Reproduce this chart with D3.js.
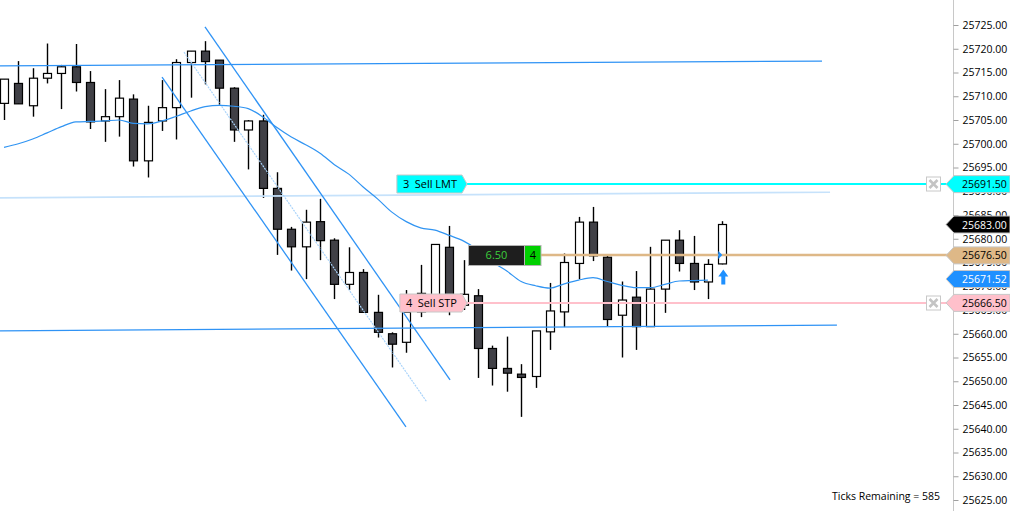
<!DOCTYPE html>
<html><head><meta charset="utf-8">
<script src="https://cdn.jsdelivr.net/npm/d3@7"></script>
<style>html,body{margin:0;padding:0;background:#fff;overflow:hidden}svg{display:block}</style>
</head><body><svg id="c" width="1010" height="511"></svg>
<script>
// ---------- DATA ----------
const opens  = [25708.5,25712.7,25708.0,25713.8,25714.8,25716.2,25712.9,25704.8,25705.7,25709.4,
                25696.4,25704.8,25707.6,25717.1,25719.5,25717.6,25711.7,25702.9,25704.8,25690.6,
                25682.0,25678.3,25683.6,25679.7,25670.4,25672.9,25664.5,25660.0,25658.2,25664.6,
                25667.5,25678.2,25666.0,25668.0,25656.9,25652.7,25651.5,25651.0,25660.4,25664.6,
                25674.8,25683.5,25676.1,25663.9,25667.7,25661.5,25669.4,25679.7,25674.8,25670.9,25674.7];
const highs  = [25713.6,25717.4,25715.9,25721.1,25716.6,25721.0,25715.3,25711.5,25713.4,25710.4,
                25708.0,25713.4,25717.8,25719.5,25721.6,25717.6,25711.9,25705.0,25706.1,25694.0,
                25682.5,25686.1,25688.4,25680.1,25678.2,25673.6,25668.2,25660.3,25669.2,25674.5,
                25678.8,25682.7,25675.5,25669.4,25657.5,25659.4,25653.6,25660.6,25670.7,25676.9,
                25684.6,25686.7,25676.4,25671.0,25673.2,25678.3,25679.7,25681.8,25680.6,25675.7,25683.7];
const lows   = [25705.0,25708.4,25705.7,25712.7,25707.3,25711.0,25703.1,25700.4,25701.5,25695.2,
                25692.9,25702.7,25700.9,25709.7,25712.5,25708.2,25700.4,25694.6,25688.6,25676.6,
                25673.3,25671.5,25675.5,25667.3,25669.2,25664.5,25659.2,25652.9,25656.0,25663.5,
                25666.0,25663.9,25665.0,25650.7,25649.1,25647.8,25642.5,25648.6,25656.6,25661.4,
                25671.5,25675.3,25661.6,25655.0,25656.6,25661.5,25664.4,25673.1,25669.2,25667.3,25674.6];
const closes = [25713.6,25708.4,25713.8,25714.8,25716.2,25712.9,25704.6,25705.7,25709.6,25696.4,
                25704.5,25707.6,25717.1,25719.5,25717.3,25711.7,25702.9,25704.8,25690.6,25682.0,
                25678.3,25683.5,25679.6,25670.4,25672.9,25664.5,25660.3,25657.8,25664.5,25668.5,
                25678.8,25666.0,25668.3,25656.9,25652.7,25651.7,25650.8,25660.6,25664.8,25675.0,
                25683.5,25676.4,25663.0,25667.1,25661.5,25669.4,25679.7,25674.8,25670.9,25674.6,25683.0];
// moving average, one value per bar (last bar has none)
const maValues = [25699.25,25700.0,25701.0,25702.3,25703.6,25704.6,25704.7,25704.8,25705.0,25704.3,
                  25704.2,25704.8,25705.8,25706.9,25707.8,25708.1,25707.9,25707.4,25705.7,25703.4,
                  25701.4,25699.8,25698.0,25695.6,25693.6,25690.9,25688.4,25685.6,25683.6,25682.3,
                  25681.8,25680.7,25679.5,25677.6,25675.1,25673.2,25671.0,25670.1,25669.6,25670.5,
                  25671.3,25671.8,25671.0,25670.2,25669.7,25669.7,25670.4,25671.1,25671.2,25671.3];
// drawn lines: [barIndex1, price1, barIndex2, price2]
const upperLevel   = [-0.28, 25716.4, 56.94, 25717.4];
const lowerLevel   = [-0.28, 25660.6, 57.98, 25661.8];
const faintLevel   = [-0.28, 25688.6, 57.5, 25689.8];
const channelUpper = [13.99, 25724.6, 31.05, 25650.3];
const channelLower = [11.0, 25714.05, 27.98, 25640.4];
const channelMid   = [12.53, 25719.3, 29.44, 25645.6];
// price axis ticks
const yTicks = d3.range(25625, 25726, 5);
// orders / position / markers
const orderQty    = [3, 4];
const orderTypes  = ["Sell LMT", "Sell STP"];
const orderPrices = [25691.5, 25666.5];
const positionPrice = 25676.5;
const positionPnl = "6.50";
const positionQty = 4;
const lastPrice = 25683.00;
const maLastValue = 25671.52;
const ticksRemaining = 585;

// ---------- SCALES ----------
const W = 1010, H = 511, axisX = 953;
const x = d3.scaleLinear().domain([0, 50]).range([4, 722.3]);
const y = d3.scaleLinear().domain([25725, 25625]).range([25, 500]);
const svg = d3.select("#c");
const FONT = "'Open Sans','Noto Sans',sans-serif";
svg.append("rect").attr("width", W).attr("height", H).attr("fill", "#fff");

const bars = d3.range(opens.length).map(i => ({i, o: opens[i], h: highs[i], l: lows[i], c: closes[i]}));

// ---------- CANDLES ----------
const g = svg.append("g");
const bw = 8;
g.selectAll(".wick").data(bars).enter().append("line")
  .attr("x1", d => Math.round(x(d.i)) + 0.5).attr("x2", d => Math.round(x(d.i)) + 0.5)
  .attr("y1", d => y(d.h)).attr("y2", d => y(d.l))
  .attr("stroke", "#000").attr("stroke-width", 1.4);
g.selectAll(".body").data(bars).enter().append("rect")
  .attr("x", d => Math.round(x(d.i)) - bw / 2 + 0.5)
  .attr("y", d => y(Math.max(d.o, d.c)))
  .attr("width", bw)
  .attr("height", d => Math.max(1, Math.abs(y(d.o) - y(d.c))))
  .attr("fill", d => d.c >= d.o ? "#ffffff" : "#404046")
  .attr("stroke", "#000").attr("stroke-width", 1.2);

// ---------- LINES ----------
function seg(arr, color, width, dash) {
  svg.append("line")
    .attr("x1", x(arr[0])).attr("y1", y(arr[1]))
    .attr("x2", x(arr[2])).attr("y2", y(arr[3]))
    .attr("stroke", color).attr("stroke-width", width)
    .attr("stroke-dasharray", dash || null);
}
seg(faintLevel, "#c6e2fb", 1.6);
seg(upperLevel, "#2f93f5", 1.3);
seg(lowerLevel, "#2f93f5", 1.3);
seg(channelUpper, "#2f93f5", 1.3);
seg(channelLower, "#2f93f5", 1.3);
seg(channelMid, "#a9d3fa", 1.2, "2,1");

const maLine = d3.line().x((d, i) => x(i)).y(d => y(d)).curve(d3.curveMonotoneX);
svg.append("path").datum(maValues).attr("d", maLine)
  .attr("fill", "none").attr("stroke", "#3094f2").attr("stroke-width", 1.2);

// ---------- ORDERS ----------
const orderColors = ["#00ffff", "#ffc0cb"];
const labelRight = 467, xBoxL = 926, xBoxS = 15;
orderPrices.forEach((p, k) => {
  const yy = Math.round(y(p));
  svg.append("line").attr("x1", labelRight).attr("x2", xBoxL).attr("y1", yy).attr("y2", yy)
    .attr("stroke", orderColors[k]).attr("stroke-width", 2);
  svg.append("line").attr("x1", xBoxL + xBoxS).attr("x2", axisX).attr("y1", yy).attr("y2", yy)
    .attr("stroke", orderColors[k]).attr("stroke-width", 2);
  const txt = svg.append("text").attr("font-family", FONT).attr("font-size", 11)
    .attr("fill", "#000").attr("y", yy + 4).attr("xml:space", "preserve")
    .text(orderQty[k] + "\u2002" + orderTypes[k]);
  const tw = txt.node().getComputedTextLength();
  const left = labelRight - tw - 16;
  svg.insert("path", () => txt.node())
    .attr("d", `M${left},${yy - 9}H${labelRight - 5}L${labelRight},${yy}L${labelRight - 5},${yy + 9}H${left}Z`)
    .attr("fill", orderColors[k]).attr("stroke", "#c8c8c8").attr("stroke-width", 1);
  txt.attr("x", left + 6);
  // cancel box
  const bx = svg.append("g").attr("transform", `translate(${xBoxL},${yy - xBoxS / 2})`);
  bx.append("rect").attr("x", 0.5).attr("y", 0.5).attr("width", xBoxS - 1).attr("height", xBoxS - 1)
    .attr("fill", "#fff").attr("stroke", "#c8c8c8");
  bx.append("path").attr("d", `M3.5,3.5L${xBoxS - 3.5},${xBoxS - 3.5}M${xBoxS - 3.5},3.5L3.5,${xBoxS - 3.5}`)
    .attr("stroke", "#c4c4c4").attr("stroke-width", 2.6);
});

// ---------- POSITION ----------
const py = Math.round(y(positionPrice));
svg.append("line").attr("x1", 541).attr("x2", axisX).attr("y1", py).attr("y2", py)
  .attr("stroke", "#deb887").attr("stroke-width", 2.5);
svg.append("rect").attr("x", 468.5).attr("y", py - 9.5).attr("width", 56).attr("height", 20)
  .attr("fill", "#1e1e1e").attr("stroke", "#b4b4b4");
svg.append("text").attr("x", 496.5).attr("y", py + 4).attr("text-anchor", "middle")
  .attr("font-family", FONT).attr("font-size", 11).attr("fill", "#3ccf3c").text(positionPnl);
svg.append("rect").attr("x", 524.5).attr("y", py - 9.5).attr("width", 16.5).attr("height", 20)
  .attr("fill", "#00d000").attr("stroke", "#b4b4b4");
svg.append("text").attr("x", 532.8).attr("y", py + 4).attr("text-anchor", "middle")
  .attr("font-family", FONT).attr("font-size", 11).attr("fill", "#000").text(positionQty);

// entry marker and signal arrow on the last bar
const lx = x(50);
svg.append("path").attr("d", `M${lx - 4},${py - 4}L${lx},${py}L${lx - 4},${py + 4}Z`).attr("fill", "#1e90ff");
const ay = y(lows[50]) + 5;
svg.append("path")
  .attr("d", `M${lx + 1},${ay}L${lx + 6},${ay + 7}L${lx + 3},${ay + 7}L${lx + 3},${ay + 15}L${lx - 1},${ay + 15}L${lx - 1},${ay + 7}L${lx - 4},${ay + 7}Z`)
  .attr("fill", "#1e90ff");

// ---------- AXIS ----------
const tags = [
  {v: orderPrices[0], fill: "#00ffff", text: "#000"},
  {v: lastPrice, fill: "#000000", text: "#fff"},
  {v: positionPrice, fill: "#deb887", text: "#000"},
  {v: maLastValue, fill: "#1e90ff", text: "#fff"},
  {v: orderPrices[1], fill: "#ffc0cb", text: "#000"}
];
// clip for tick labels: visible only outside the price tags
const bands = tags.map(t => [y(t.v) - 8.5, y(t.v) + 8.5]).sort((a, b) => a[0] - b[0]);
const clip = svg.append("defs").append("clipPath").attr("id", "tickClip");
let prev = 0;
bands.forEach(b => {
  if (b[0] > prev) clip.append("rect").attr("x", 0).attr("y", prev).attr("width", W).attr("height", b[0] - prev);
  prev = Math.max(prev, b[1]);
});
clip.append("rect").attr("x", 0).attr("y", prev).attr("width", W).attr("height", H - prev);

svg.append("line").attr("x1", axisX + 0.5).attr("x2", axisX + 0.5).attr("y1", 0).attr("y2", H)
  .attr("stroke", "#c8c8c8");
const axG = svg.append("g").attr("clip-path", "url(#tickClip)");
const ax = axG.append("g").attr("transform", `translate(${axisX + 0.5},0)`)
  .call(d3.axisRight(y).tickValues(yTicks).tickFormat(d3.format(".2f")).tickSize(5).tickPadding(4).tickSizeOuter(0));
ax.select(".domain").remove();
ax.selectAll(".tick line").attr("stroke", "#a0a0a0");
ax.selectAll(".tick text").attr("font-family", FONT).attr("font-size", 10.5).attr("fill", "#000");

// price tags
tags.forEach(t => {
  const ty = y(t.v);
  svg.append("path")
    .attr("d", `M946,${ty}L954,${ty - 8.5}H1010V${ty + 8.5}H954Z`)
    .attr("fill", t.fill).attr("stroke", "#c8c8c8").attr("stroke-width", 1);
  svg.append("text").attr("x", 962).attr("y", ty + 4).attr("font-family", FONT).attr("font-size", 10.5)
    .attr("fill", t.text).text(d3.format(".2f")(t.v));
});

svg.append("text").attr("x", 832).attr("y", 499.5).attr("font-family", FONT).attr("font-size", 10.5)
  .attr("fill", "#000").text("Ticks Remaining = " + ticksRemaining);
</script></body></html>
